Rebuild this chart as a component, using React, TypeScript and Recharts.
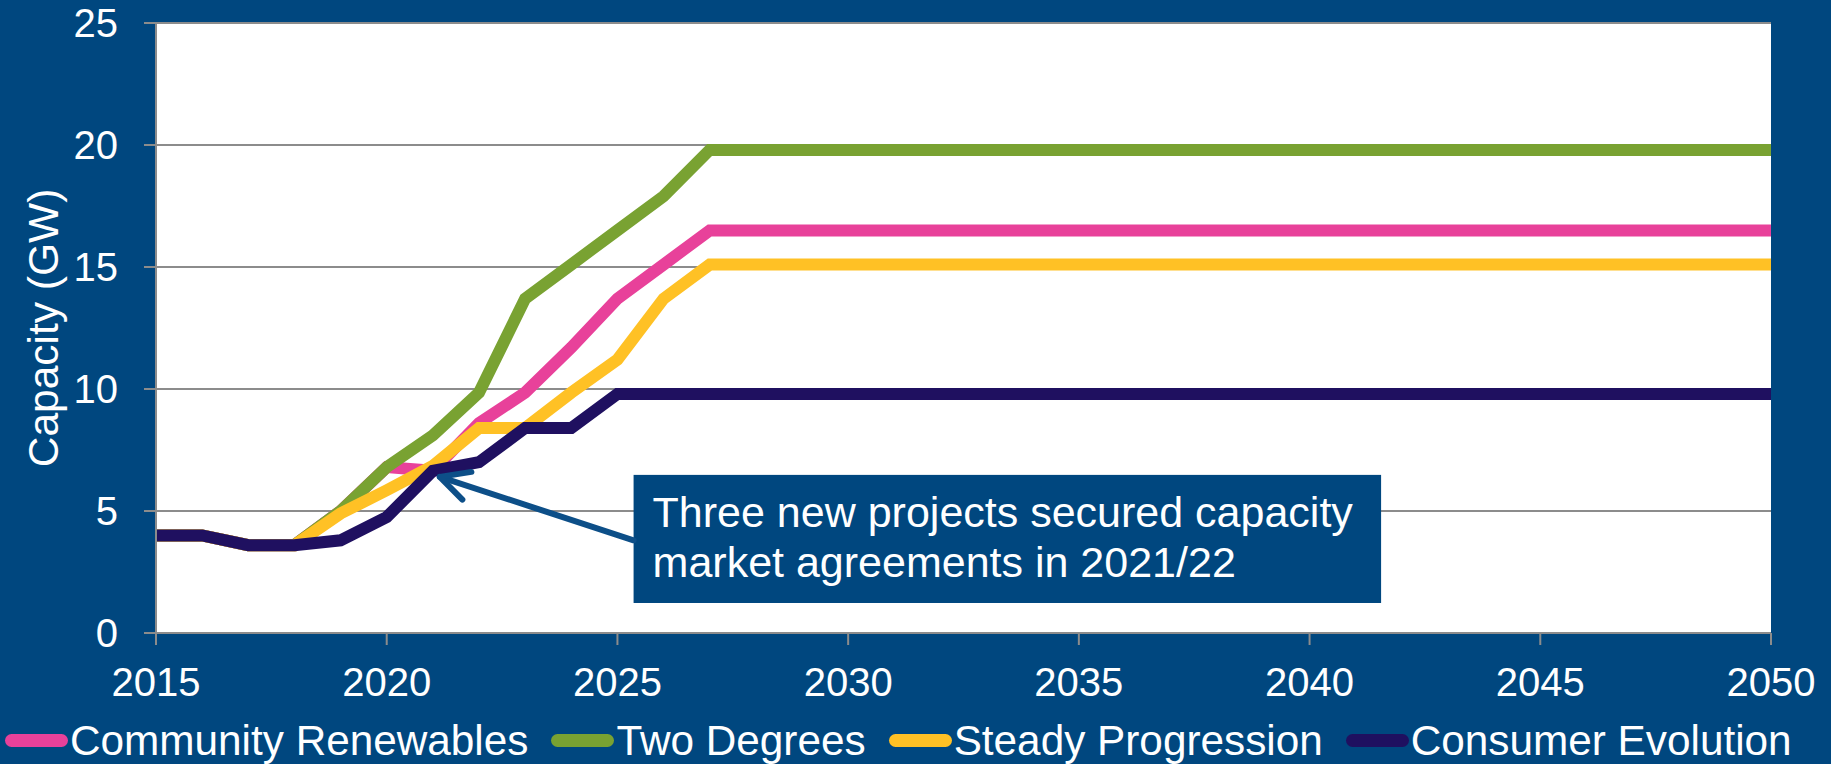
import React from 'react';
import {
  LineChart,
  Line,
  XAxis,
  YAxis,
  CartesianGrid,
  ReferenceArea,
  ReferenceLine,
} from 'recharts';

// ---------------------------------------------------------------------------
// Data (GW)
// ---------------------------------------------------------------------------
const YEARS = [
  2015, 2016, 2017, 2018, 2019, 2020, 2021, 2022, 2023, 2024, 2025, 2026,
  2027, 2028, 2029, 2030, 2031, 2032, 2033, 2034, 2035, 2036, 2037, 2038,
  2039, 2040, 2041, 2042, 2043, 2044, 2045, 2046, 2047, 2048, 2049, 2050,
];

const COMMUNITY_RENEWABLES = [
  4.0, 4.0, 3.6, 3.6, 5.0, 6.8, 6.65, 8.6, 9.85, 11.7, 13.7, 15.1,
  16.5, 16.5, 16.5, 16.5, 16.5, 16.5, 16.5, 16.5, 16.5, 16.5, 16.5, 16.5,
  16.5, 16.5, 16.5, 16.5, 16.5, 16.5, 16.5, 16.5, 16.5, 16.5, 16.5, 16.5,
];

const TWO_DEGREES = [
  4.0, 4.0, 3.6, 3.6, 5.0, 6.8, 8.1, 9.85, 13.7, 15.1, 16.5, 17.9,
  19.8, 19.8, 19.8, 19.8, 19.8, 19.8, 19.8, 19.8, 19.8, 19.8, 19.8, 19.8,
  19.8, 19.8, 19.8, 19.8, 19.8, 19.8, 19.8, 19.8, 19.8, 19.8, 19.8, 19.8,
];

const STEADY_PROGRESSION = [
  4.0, 4.0, 3.6, 3.6, 4.9, 5.85, 6.85, 8.4, 8.4, 9.85, 11.2, 13.7,
  15.1, 15.1, 15.1, 15.1, 15.1, 15.1, 15.1, 15.1, 15.1, 15.1, 15.1, 15.1,
  15.1, 15.1, 15.1, 15.1, 15.1, 15.1, 15.1, 15.1, 15.1, 15.1, 15.1, 15.1,
];

const CONSUMER_EVOLUTION = [
  4.0, 4.0, 3.6, 3.6, 3.8, 4.75, 6.65, 7.0, 8.4, 8.4, 9.8, 9.8,
  9.8, 9.8, 9.8, 9.8, 9.8, 9.8, 9.8, 9.8, 9.8, 9.8, 9.8, 9.8,
  9.8, 9.8, 9.8, 9.8, 9.8, 9.8, 9.8, 9.8, 9.8, 9.8, 9.8, 9.8,
];

const X_TICKS = [2015, 2020, 2025, 2030, 2035, 2040, 2045, 2050];
const Y_TICKS = [0, 5, 10, 15, 20, 25];

const ANNOTATION_LINES = [
  'Three new projects secured capacity',
  'market agreements in 2021/22',
];

// ---------------------------------------------------------------------------
// Theme
// ---------------------------------------------------------------------------
const BG = '#00477F';
const ARROW = '#0D4F88';
const GRID = '#8C8C8C';
const FONT = '"Liberation Sans", Arial, sans-serif';

const SERIES = [
  { key: 'cr', name: 'Community Renewables', values: COMMUNITY_RENEWABLES, color: '#E8419A' },
  { key: 'td', name: 'Two Degrees', values: TWO_DEGREES, color: '#79A232' },
  { key: 'sp', name: 'Steady Progression', values: STEADY_PROGRESSION, color: '#FFC125' },
  { key: 'ce', name: 'Consumer Evolution', values: CONSUMER_EVOLUTION, color: '#1F1060' },
];

const data = YEARS.map((year, i) => {
  const row: Record<string, number> = { year };
  SERIES.forEach((s) => {
    row[s.key] = s.values[i];
  });
  return row;
});

// ---------------------------------------------------------------------------
// Annotation pieces
// ---------------------------------------------------------------------------
function CalloutBox(props: any) {
  const { x, y, width, height } = props;
  return (
    <g>
      <rect x={x} y={y} width={width} height={height} fill={BG} />
      {ANNOTATION_LINES.map((line, i) => (
        <text
          key={line}
          x={x + 19}
          y={y + 52 + i * 50}
          fill="#fff"
          fontSize={43}
          fontFamily={FONT}
        >
          {line}
        </text>
      ))}
    </g>
  );
}

function ArrowShape(props: any) {
  const { x1, y1, x2, y2 } = props;
  const ang = Math.atan2(y1 - y2, x1 - x2);
  const len = 32;
  const spread = (27 * Math.PI) / 180;
  const a1x = x2 + len * Math.cos(ang - spread);
  const a1y = y2 + len * Math.sin(ang - spread);
  const a2x = x2 + len * Math.cos(ang + spread);
  const a2y = y2 + len * Math.sin(ang + spread);
  return (
    <g stroke={ARROW} strokeWidth={6} strokeLinecap="round" fill="none">
      <line x1={x1} y1={y1} x2={x2} y2={y2} />
      <polyline points={`${a1x},${a1y} ${x2},${y2} ${a2x},${a2y}`} strokeLinejoin="round" />
    </g>
  );
}

function YLabel(props: any) {
  const { viewBox } = props;
  const cx = viewBox.x + 43;
  const cy = viewBox.y + viewBox.height / 2;
  return (
    <text
      x={cx}
      y={cy}
      transform={`rotate(-90, ${cx}, ${cy})`}
      textAnchor="middle"
      dominantBaseline="central"
      fill="#fff"
      fontSize={42.5}
      fontFamily={FONT}
    >
      Capacity (GW)
    </text>
  );
}

// ---------------------------------------------------------------------------
// Component
// ---------------------------------------------------------------------------
export default function App() {
  const tickStyle = { fill: '#fff', fontSize: 40, fontFamily: FONT };

  return (
    <div
      style={{
        position: 'absolute',
        left: 0,
        top: 0,
        width: 1831,
        height: 764,
        background: BG,
        fontFamily: FONT,
      }}
    >
      <LineChart
        width={1831}
        height={764}
        data={data}
        margin={{ top: 23, right: 60, left: 0, bottom: 0 }}
      >
        <CartesianGrid
          vertical={false}
          horizontal
          stroke={GRID}
          strokeWidth={2}
          fill="#fff"
          fillOpacity={1}
        />
        <XAxis
          dataKey="year"
          type="number"
          domain={[2015, 2050]}
          ticks={X_TICKS}
          height={131}
          tickSize={12}
          tickMargin={23}
          tick={tickStyle}
          stroke={GRID}
          strokeWidth={2}
          interval={0}
        />
        <YAxis
          domain={[0, 25]}
          ticks={Y_TICKS}
          width={156}
          tickSize={12}
          tickMargin={26}
          tick={tickStyle}
          stroke={GRID}
          strokeWidth={2}
          interval={0}
          label={<YLabel />}
        />
        {SERIES.map((s) => (
          <Line
            key={s.key}
            dataKey={s.key}
            name={s.name}
            stroke={s.color}
            strokeWidth={12}
            dot={false}
            activeDot={false}
            type="linear"
            isAnimationActive={false}
          />
        ))}
        <ReferenceArea
          x1={2025.35}
          x2={2041.55}
          y1={1.23}
          y2={6.48}
          shape={(p: any) => <CalloutBox {...p} />}
        />
        <ReferenceLine
          segment={[
            { x: 2025.35, y: 3.8 },
            { x: 2021.15, y: 6.4 },
          ]}
          shape={(p: any) => <ArrowShape {...p} />}
        />
      </LineChart>

      {/* Legend */}
      <div
        style={{
          position: 'absolute',
          left: 5,
          top: 720,
          display: 'flex',
          alignItems: 'center',
          gap: 23,
          color: '#fff',
          fontSize: 42.3,
          lineHeight: '41px',
          whiteSpace: 'nowrap',
        }}
      >
        {SERIES.map((s) => (
          <div key={s.key} style={{ display: 'flex', alignItems: 'center', gap: 2 }}>
            <span
              style={{
                display: 'inline-block',
                width: 63,
                height: 13,
                borderRadius: 7,
                background: s.color,
              }}
            />
            <span>{s.name}</span>
          </div>
        ))}
      </div>
    </div>
  );
}
